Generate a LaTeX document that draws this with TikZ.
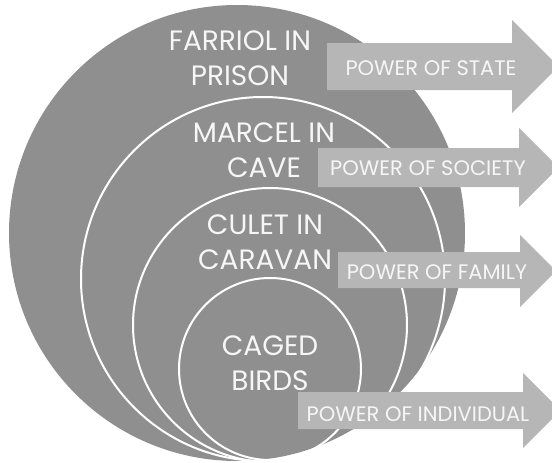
\documentclass[tikz,border=0pt]{standalone}
\usepackage{fontspec}
\setmainfont{Poppins}
\usepackage{tikz}
\definecolor{ringgray}{RGB}{143,143,143}
\definecolor{arrowgray}{RGB}{182,182,182}
\definecolor{textwhite}{RGB}{246,246,246}

\tikzset{
  ring/.style={draw=white, line width=2pt},
  powerarrow/.style={fill=arrowgray},
  ringlabel/.style={text=textwhite, align=center, inner sep=0pt, font=\fontsize{28}{35}\selectfont},
  powerlabel/.style={text=textwhite, inner sep=0pt, font=\fontsize{21}{22}\selectfont}
}

\begin{document}
\begin{tikzpicture}[x=1pt,y=-1pt]
\useasboundingbox (0,0) rectangle (552,463);
\fill[color=ringgray] (237,233) circle (228pt);
\draw[ring] (263,279) circle (182pt);
\draw[ring] (270,325) circle (137pt);
\draw[ring] (270,369) circle (91pt);
\node[ringlabel] (prison) at (240,58) {FARRIOL IN\\PRISON};
\node[ringlabel] (cave) at (264,150) {MARCEL IN\\CAVE};
\node[ringlabel] (caravan) at (265,242) {CULET IN\\CARAVAN};
\node[ringlabel] (birds) at (270,363) {CAGED\\BIRDS};
\fill[powerarrow] (327,43) -- (512,43) -- (512,20) -- (558.5,66.5) -- (512,113) -- (512,90) -- (327,90) -- cycle;
\fill[powerarrow] (318,148) -- (519,148) -- (519,128) -- (558.5,167.5) -- (519,207) -- (519,187) -- (318,187) -- cycle;
\fill[powerarrow] (338,252) -- (520,252) -- (520,235) -- (556,271) -- (520,307) -- (520,288) -- (338,288) -- cycle;
\fill[powerarrow] (298,392) -- (523,392) -- (523,373) -- (560.5,410.5) -- (523,448) -- (523,429) -- (298,429) -- cycle;
\node[powerlabel] (state) at (431,68) {POWER OF STATE};
\node[powerlabel] (society) at (428,168) {POWER OF SOCIETY};
\node[powerlabel] (family) at (437,272) {POWER OF FAMILY};
\node[powerlabel] (individual) at (418,414) {POWER OF INDIVIDUAL};
\end{tikzpicture}
\end{document}
